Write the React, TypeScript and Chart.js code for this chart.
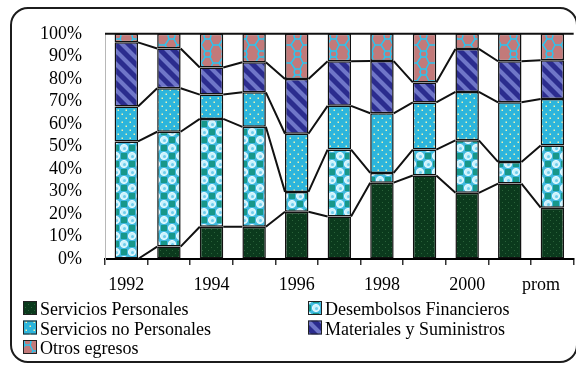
import React, { useEffect, useRef } from 'react';
import { Chart, registerables } from 'chart.js';

Chart.register(...registerables);

// ---- data (percent of total expenditure) ----
const categories = ['1992', '1993', '1994', '1995', '1996', '1997', '1998', '1999', '2000', '2001', 'prom'];
const xTickLabels = ['1992', '', '1994', '', '1996', '', '1998', '', '2000', '', 'prom\u00a0\u00a0\u00a0\u00a0\u00a0'];
const seriesNames = [
  'Servicios Personales',
  'Desembolsos Financieros',
  'Servicios no Personales',
  'Materiales y Suministros',
  'Otros egresos',
];
const serviciosPersonales = [0, 5.5, 14.3, 14.3, 21, 18.9, 33.9, 37.1, 29.4, 33.5, 22.8];
const desembolsosFinancieros = [52.2, 51, 47.9, 44.4, 8.8, 29.7, 4.3, 11.5, 23.3, 9.6, 27.6];
const serviciosNoPersonales = [15.5, 19.3, 10.8, 15.3, 25.8, 19.4, 26.5, 20.9, 21.5, 26.5, 20.6];
const materialesSuministros = [28.5, 17.7, 12, 13.4, 24.3, 19.8, 23.2, 8.9, 19.1, 18.2, 17.3];
const otrosEgresos = [3.8, 6.5, 15.0, 12.6, 20.1, 12.2, 12.1, 21.6, 6.7, 12.2, 11.7];
const yTickStep = 10;

const FONT = '"Liberation Serif", "Times New Roman", serif';

function makePattern(size: number, draw: (g: CanvasRenderingContext2D, s: number) => void) {
  const c = document.createElement('canvas');
  c.width = size;
  c.height = size;
  const g = c.getContext('2d') as CanvasRenderingContext2D;
  draw(g, size);
  return g.createPattern(c, 'repeat') as CanvasPattern;
}

function buildPatterns() {
  const green = makePattern(6, (g) => {
    g.fillStyle = '#0b3a1d';
    g.fillRect(0, 0, 6, 6);
    g.fillStyle = '#2a623a';
    g.fillRect(1, 1, 1, 1);
    g.fillRect(4, 4, 1, 1);
  });
  const circles = makePattern(16, (g) => {
    g.fillStyle = '#3fb9de';
    g.fillRect(0, 0, 16, 16);
    g.fillStyle = '#17978a';
    g.fillRect(1, 1, 6, 6);
    g.fillRect(9, 9, 6, 6);
    const ring = (cx: number, cy: number) => {
      g.beginPath();
      g.arc(cx, cy, 3.6, 0, Math.PI * 2);
      g.fillStyle = '#c9f1fd';
      g.fill();
      g.lineWidth = 1;
      g.strokeStyle = '#e9fbff';
      g.stroke();
      g.beginPath();
      g.arc(cx + 0.5, cy + 0.5, 1.5, 0, Math.PI * 2);
      g.fillStyle = '#6fcdec';
      g.fill();
    };
    ring(12, 4);
    ring(4, 12);
  });
  const dots = makePattern(8, (g) => {
    g.fillStyle = '#2cb5dc';
    g.fillRect(0, 0, 8, 8);
    g.fillStyle = '#eef2b0';
    g.fillRect(1.5, 1.5, 1.5, 1.5);
    g.fillRect(5.5, 5.5, 1.5, 1.5);
  });
  const stripes = makePattern(13, (g, s) => {
    g.fillStyle = '#2b2c8e';
    g.fillRect(0, 0, s, s);
    g.strokeStyle = '#6f76c8';
    g.lineWidth = 4.2;
    g.beginPath();
    for (let o = -s; o <= s; o += s) {
      g.moveTo(o - 2, -2);
      g.lineTo(o + s + 2, s + 2);
    }
    g.stroke();
  });
  const net = makePattern(18, (g) => {
    g.fillStyle = '#c27a7a';
    g.fillRect(0, 0, 18, 18);
    g.strokeStyle = '#2bc4ee';
    g.lineWidth = 1.5;
    g.lineCap = 'round';
    const segs = [
      [0, 9, 3, 9], [3, 9, 7, 3], [7, 3, 12, 3], [12, 3, 15, 9], [15, 9, 18, 9],
      [7, 3, 6, 0], [12, 3, 13, 0], [3, 9, 7, 15], [7, 15, 12, 15], [12, 15, 15, 9],
      [7, 15, 6, 18], [12, 15, 13, 18],
    ];
    g.beginPath();
    segs.forEach(([a, b, c, d]) => {
      g.moveTo(a, b);
      g.lineTo(c, d);
    });
    g.stroke();
  });
  return [green, circles, dots, stripes, net];
}

const seriesLinesPlugin = {
  id: 'seriesLines',
  afterDatasetsDraw(chart: any) {
    const ctx = chart.ctx as CanvasRenderingContext2D;
    const area = chart.chartArea;
    ctx.save();
    ctx.strokeStyle = '#111';
    ctx.lineWidth = 2;
    ctx.lineJoin = 'round';
    const n = chart.data.datasets.length;
    for (let k = 0; k < n - 1; k++) {
      const meta = chart.getDatasetMeta(k);
      ctx.beginPath();
      for (let i = 0; i < meta.data.length - 1; i++) {
        const a = meta.data[i];
        const b = meta.data[i + 1];
        ctx.moveTo(a.x + a.width / 2, a.y);
        ctx.lineTo(b.x - b.width / 2, b.y);
      }
      ctx.stroke();
    }
    // top border of plot area
    ctx.beginPath();
    ctx.moveTo(area.left, area.top);
    ctx.lineTo(area.right, area.top);
    ctx.stroke();
    ctx.restore();
  },
};

const legendPlugin = {
  id: 'gridLegend',
  afterDraw(chart: any) {
    const ctx = chart.ctx as CanvasRenderingContext2D;
    const slots = [
      [23, 315],
      [308, 315],
      [23, 334.5],
      [308, 334.5],
      [23, 354],
    ];
    ctx.save();
    ctx.font = `18px ${FONT}`;
    ctx.textBaseline = 'alphabetic';
    chart.data.datasets.forEach((ds: any, i: number) => {
      const [x, y] = slots[i];
      ctx.fillStyle = ds.backgroundColor;
      ctx.fillRect(x, y - 14, 14, 14);
      ctx.strokeStyle = '#222';
      ctx.lineWidth = 1;
      ctx.strokeRect(x + 0.5, y - 13.5, 13, 13);
      ctx.fillStyle = '#000';
      ctx.fillText(ds.label, x + 17, y);
    });
    ctx.restore();
  },
};

export default function App() {
  const ref = useRef<HTMLCanvasElement | null>(null);

  useEffect(() => {
    if (!ref.current) return;
    const patterns = buildPatterns();
    const values = [serviciosPersonales, desembolsosFinancieros, serviciosNoPersonales, materialesSuministros, otrosEgresos];
    const chart = new Chart(ref.current, {
      type: 'bar',
      data: {
        labels: categories,
        datasets: values.map((v, i) => ({
          label: seriesNames[i],
          data: v,
          backgroundColor: patterns[i] as any,
          borderColor: '#111',
          borderWidth: 1.5,
          borderSkipped: false,
          categoryPercentage: 1,
          barPercentage: 0.55,
        })),
      },
      options: {
        animation: false,
        responsive: true,
        maintainAspectRatio: false,
        events: [],
        layout: { padding: { left: 40, right: 8.5, top: 23.5, bottom: 70 } },
        plugins: { legend: { display: false }, tooltip: { enabled: false } },
        scales: {
          x: {
            stacked: true,
            grid: { drawOnChartArea: false, drawTicks: true, tickLength: 6, color: '#333', lineWidth: 1.5, offset: true },
            border: { display: true, color: '#000', width: 2 },
            ticks: {
              autoSkip: false,
              maxRotation: 0,
              padding: 9,
              color: '#000',
              font: { family: FONT, size: 18 },
              callback: (_v: any, i: number) => xTickLabels[i],
            },
            afterFit: (s: any) => {
              s.height = 36;
            },
          },
          y: {
            stacked: true,
            min: 0,
            max: 100,
            grid: { drawOnChartArea: false, drawTicks: false },
            border: { display: true, color: '#b8b8b8', width: 1 },
            ticks: {
              autoSkip: false,
              stepSize: yTickStep,
              padding: 23,
              color: '#000',
              font: { family: FONT, size: 18 },
              callback: (v: any) => `${v}%`,
            },
            afterFit: (s: any) => {
              s.width = 65;
            },
          },
        },
      },
      plugins: [seriesLinesPlugin, legendPlugin],
    });
    return () => chart.destroy();
  }, []);

  return (
    <div style={{ position: 'fixed', left: 0, top: 0, width: 576, height: 365, overflow: 'hidden', background: '#fff' }}>
      <div
        style={{
          position: 'absolute',
          left: 10,
          top: 7,
          width: 568,
          height: 356,
          border: '2.5px solid #1c1c1c',
          borderRadius: 18,
          boxSizing: 'border-box',
        }}
      />
      <div style={{ position: 'absolute', left: 0, top: 0, width: 592, height: 365 }}>
        <canvas ref={ref} />
      </div>
    </div>
  );
}
